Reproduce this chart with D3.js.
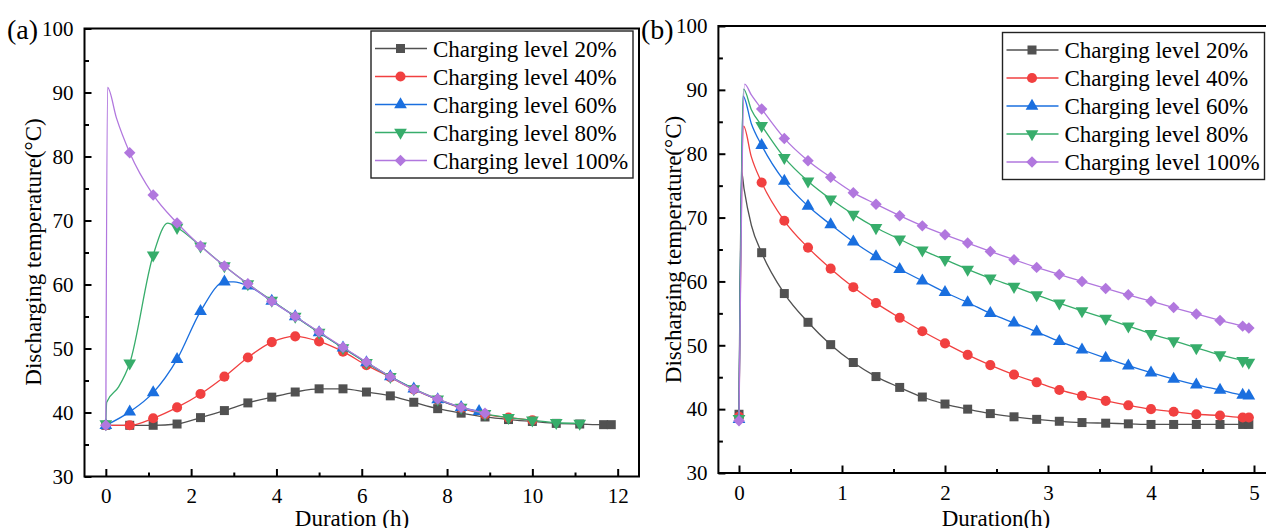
<!DOCTYPE html>
<html>
<head>
<meta charset="utf-8">
<script src="https://cdn.jsdelivr.net/npm/d3@7"></script>
<style>
  body { margin: 0; background: #fff; }
  svg text { font-family: "Liberation Serif", "Times New Roman", serif; fill: #000; }
</style>
</head>
<body>
<svg id="chart" width="1266" height="528"></svg>
<script>
const levels = ["Charging level 20%", "Charging level 40%", "Charging level 60%", "Charging level 80%", "Charging level 100%"]
const colors = ["#515151", "#F14040", "#1A6FDF", "#37AD6B", "#B177DE"]
const shapes = ["square", "circle", "triangle", "triangleDown", "diamond"]
const SERIF = "'Liberation Serif', 'Times New Roman', serif"

// (a) duration in h, temperature in °C, one pair per marker
const a20 = [[0,38.0],[0.56,38.0],[1.11,38.0],[1.67,38.2],[2.22,39.2],[2.78,40.3],[3.33,41.5],[3.89,42.4],[4.44,43.2],[5.0,43.7],[5.56,43.7],[6.11,43.2],[6.67,42.6],[7.22,41.6],[7.78,40.6],[8.33,39.9],[8.89,39.3],[9.44,38.9],[10.0,38.6],[10.56,38.3],[11.11,38.2],[11.67,38.1],[11.85,38.1]]
const a40 = [[0,38.0],[0.56,38.0],[1.11,39.1],[1.67,40.8],[2.22,42.9],[2.78,45.6],[3.33,48.6],[3.89,51.0],[4.44,51.9],[5.0,51.1],[5.56,49.5],[6.11,47.4],[6.67,45.5],[7.22,43.6],[7.78,42.0],[8.33,40.7],[8.89,39.7],[9.44,39.2],[10.0,38.8]]
const a60 = [[0,38.0],[0.56,40.1],[1.11,43.1],[1.67,48.3],[2.22,55.8],[2.78,60.4],[3.33,59.8],[3.89,57.4],[4.44,55.0],[5.0,52.5],[5.56,50.1],[6.11,47.8],[6.67,45.6],[7.22,43.7],[7.78,42.0],[8.33,40.8],[8.75,40.2]]
const a80 = [[0,38.2],[0.56,47.7],[1.11,64.6],[1.67,68.9],[2.22,66.0],[2.78,62.9],[3.33,60.1],[3.89,57.5],[4.44,55.0],[5.0,52.5],[5.56,50.1],[6.11,47.8],[6.67,45.6],[7.22,43.7],[7.78,42.1],[8.33,40.8],[8.89,39.8],[9.44,39.2],[10.0,38.8],[10.56,38.4],[11.11,38.3]]
const a100 = [[0,38.0],[0.56,80.6],[1.11,74.0],[1.67,69.6],[2.22,66.0],[2.78,62.9],[3.33,60.1],[3.89,57.4],[4.44,55.0],[5.0,52.6],[5.56,50.2],[6.11,47.9],[6.67,45.6],[7.22,43.6],[7.78,42.1],[8.33,40.8],[8.89,39.9]]
// points on the lines between markers
const a20Curve = []
const a40Curve = []
const a60Curve = [[3.0,60.4]]
const a80Curve = [[0.02,41.6],[0.3,44.0],[1.45,69.6]]
const a100Curve = [[0.04,90.8],[0.25,86.0]]

// (b)
const b20 = [[0,39.2],[0.22,64.5],[0.44,58.1],[0.67,53.6],[0.89,50.1],[1.11,47.3],[1.33,45.1],[1.56,43.4],[1.78,41.9],[2.0,40.8],[2.22,40.0],[2.44,39.3],[2.67,38.8],[2.89,38.4],[3.11,38.1],[3.33,37.9],[3.56,37.8],[3.78,37.7],[4.0,37.6],[4.22,37.6],[4.44,37.6],[4.67,37.6],[4.89,37.6],[4.95,37.6]]
const b40 = [[0,38.8],[0.22,75.5],[0.44,69.5],[0.67,65.3],[0.89,62.0],[1.11,59.1],[1.33,56.6],[1.56,54.3],[1.78,52.2],[2.0,50.3],[2.22,48.5],[2.44,46.9],[2.67,45.4],[2.89,44.2],[3.11,43.0],[3.33,42.1],[3.56,41.3],[3.78,40.6],[4.0,40.0],[4.22,39.6],[4.44,39.2],[4.67,39.0],[4.89,38.7],[4.95,38.7]]
const b60 = [[0,38.4],[0.22,81.3],[0.44,75.7],[0.67,71.8],[0.89,68.9],[1.11,66.2],[1.33,63.9],[1.56,61.9],[1.78,60.1],[2.0,58.3],[2.22,56.7],[2.44,55.0],[2.67,53.5],[2.89,52.1],[3.11,50.6],[3.33,49.3],[3.56,48.0],[3.78,46.8],[4.0,45.7],[4.22,44.7],[4.44,43.8],[4.67,43.0],[4.89,42.2],[4.95,42.1]]
const b80 = [[0,38.5],[0.22,84.4],[0.44,79.4],[0.67,75.7],[0.89,72.9],[1.11,70.5],[1.33,68.4],[1.56,66.6],[1.78,64.9],[2.0,63.4],[2.22,61.9],[2.44,60.5],[2.67,59.2],[2.89,57.9],[3.11,56.6],[3.33,55.4],[3.56,54.2],[3.78,53.0],[4.0,51.8],[4.22,50.7],[4.44,49.6],[4.67,48.5],[4.89,47.6],[4.95,47.3]]
const b100 = [[0,38.2],[0.22,87.0],[0.44,82.4],[0.67,78.9],[0.89,76.3],[1.11,73.9],[1.33,72.1],[1.56,70.3],[1.78,68.7],[2.0,67.3],[2.22,66.0],[2.44,64.7],[2.67,63.4],[2.89,62.2],[3.11,61.1],[3.33,60.0],[3.56,58.9],[3.78,57.9],[4.0,56.9],[4.22,55.9],[4.44,54.9],[4.67,53.9],[4.89,53.0],[4.95,52.7]]
const b20Curve = [[0.025,77.2],[0.05,74.4],[0.12,68.8]]
const b40Curve = [[0.045,84.3],[0.12,79.5]]
const b60Curve = [[0.04,89.0],[0.12,84.7]]
const b80Curve = [[0.045,90.1],[0.12,86.9]]
const b100Curve = [[0.055,90.9],[0.12,89.2]]

const yTicks = [30, 40, 50, 60, 70, 80, 90, 100]
const xTicksA = [0, 2, 4, 6, 8, 10, 12]
const xTicksB = [0, 1, 2, 3, 4, 5]

const svg = d3.select("#chart")

function symbolPath(shape) {
  if (shape === "square") return d3.symbol(d3.symbolSquare, 81)()
  if (shape === "circle") return d3.symbol(d3.symbolCircle, 80)()
  if (shape === "diamond") return d3.symbol(d3.symbolSquare, 66)()
  return d3.symbol(d3.symbolTriangle, 70)()
}
function symbolRotate(shape) {
  if (shape === "diamond") return 45
  if (shape === "triangleDown") return 180
  return 0
}

function drawPanel(p) {
  const x = d3.scaleLinear().domain(p.xDomain).range(p.xRange)
  const y = d3.scaleLinear().domain([30, 100]).range(p.yRange)
  const g = svg.append("g")
  const bottom = p.yRange[0], top = p.yRange[1]

  // lines first, then markers, series by series
  const line = d3.line().x(d => x(d[0])).y(d => y(d[1])).curve(d3.curveMonotoneX)
  p.series.forEach((s, i) => {
    const pts = s.concat(p.curves[i]).sort((a, b) => a[0] - b[0])
    g.append("path")
      .attr("d", line(pts))
      .attr("fill", "none")
      .attr("stroke", colors[i])
      .attr("stroke-width", 1.3)
    g.selectAll(null)
      .data(s)
      .enter()
      .append("path")
        .attr("d", symbolPath(shapes[i]))
        .attr("transform", d => `translate(${x(d[0])},${y(d[1])}) rotate(${symbolRotate(shapes[i])})`)
        .attr("fill", colors[i])
  })

  // axes with inward ticks
  const xAxis = g.append("g")
    .attr("transform", "translate(0," + bottom + ")")
    .call(d3.axisBottom(x).tickValues(p.xTicks).tickSize(-7.5).tickPadding(12).tickFormat(d3.format("d")))
  const xMinor = g.append("g")
    .attr("transform", "translate(0," + bottom + ")")
    .call(d3.axisBottom(x).tickValues(p.xMinor).tickSize(-4).tickFormat(""))
  const yAxis = g.append("g")
    .attr("transform", "translate(" + p.xRange[0] + ",0)")
    .call(d3.axisLeft(y).tickValues(yTicks).tickSize(-7).tickPadding(11))
  const yMinor = g.append("g")
    .attr("transform", "translate(" + p.xRange[0] + ",0)")
    .call(d3.axisLeft(y).tickValues(d3.range(35, 100, 10)).tickSize(-4.5).tickFormat(""))
  ;[xAxis, xMinor, yAxis, yMinor].forEach(a => {
    a.attr("font-family", null)
    a.select(".domain").remove()
    a.selectAll("line").attr("stroke", "#000").attr("stroke-width", 2)
    a.selectAll("text").style("font-size", "21px").style("font-family", SERIF).attr("fill", "#000")
  })

  g.append("rect")
    .attr("x", p.xRange[0]).attr("y", top)
    .attr("width", p.xRange[1] - p.xRange[0]).attr("height", bottom - top)
    .attr("fill", "none").attr("stroke", "#000").attr("stroke-width", 2)

  g.append("text")
    .attr("x", p.xTitlePos[0]).attr("y", p.xTitlePos[1])
    .attr("text-anchor", "middle").style("font-size", "23px").style("font-family", SERIF)
    .text(p.xTitle)
  g.append("text")
    .attr("transform", `translate(${p.yTitlePos[0]},${p.yTitlePos[1]}) rotate(-90)`)
    .attr("text-anchor", "middle").attr("dy", "0.35em")
    .style("font-size", "23px").style("font-family", SERIF)
    .text("Discharging temperature(°C)")
  g.append("text")
    .attr("x", p.tag[0]).attr("y", p.tag[1])
    .style("font-size", "28px").style("font-family", SERIF)
    .text(p.tagText)

  // legend
  const lg = g.append("g").attr("transform", `translate(${p.legend[0]},${p.legend[1]})`)
  lg.append("rect")
    .attr("width", 262).attr("height", 147)
    .attr("fill", "#fff").attr("stroke", "#222").attr("stroke-width", 1.4)
  levels.forEach((name, i) => {
    const cy = 17.5 + i * 28
    lg.append("line")
      .attr("x1", 4).attr("x2", 56).attr("y1", cy).attr("y2", cy)
      .attr("stroke", colors[i]).attr("stroke-width", 1.3)
    lg.append("path")
      .attr("d", symbolPath(shapes[i]))
      .attr("transform", `translate(29.5,${cy}) rotate(${symbolRotate(shapes[i])})`)
      .attr("fill", colors[i])
    lg.append("text")
      .attr("x", 62).attr("y", cy).attr("dy", "0.35em")
      .style("font-size", "23px").style("font-family", SERIF)
      .text(name)
  })
}

drawPanel({
  xDomain: [-0.5, 12.5], xRange: [84.5, 639], yRange: [476.5, 28.5],
  xTicks: xTicksA, xMinor: [1, 3, 5, 7, 9, 11],
  series: [a20, a40, a60, a80, a100],
  curves: [a20Curve, a40Curve, a60Curve, a80Curve, a100Curve],
  xTitle: "Duration (h)", xTitlePos: [352, 526],
  yTitlePos: [32.5, 252],
  tag: [7, 39], tagText: "(a)",
  legend: [371, 31]
})

drawPanel({
  xDomain: [-0.2, 5.2], xRange: [718.4, 1274.6], yRange: [473, 26],
  xTicks: xTicksB, xMinor: [0.5, 1.5, 2.5, 3.5, 4.5],
  series: [b20, b40, b60, b80, b100],
  curves: [b20Curve, b40Curve, b60Curve, b80Curve, b100Curve],
  xTitle: "Duration(h)", xTitlePos: [996, 526],
  yTitlePos: [673, 249.5],
  tag: [641, 39], tagText: "(b)",
  legend: [1002.5, 32.5]
})
</script>
</body>
</html>
